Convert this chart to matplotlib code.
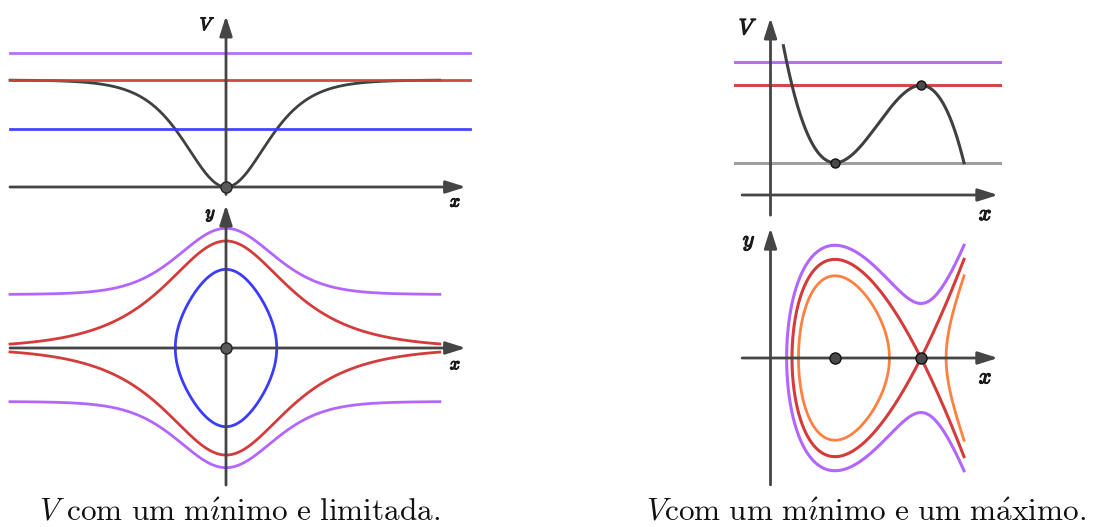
import numpy as np
import matplotlib.pyplot as plt
import matplotlib.patheffects as pe
from matplotlib.patches import ArrowStyle

plt.rcParams['mathtext.fontset'] = 'cm'

# left: bounded well  V(x) = depth * tanh(x)^2
well_depth = 1.0
well_x = (-4.0, 3.96)
well_levels = [0.54, 1.0, 1.25]
well_colors = ['#3b3bff', '#d43c3c', '#b266ff']

# right: V(x) = v_min + k (x - x_min)^2 (x_end - x), one minimum and one maximum
cubic_vmin = 0.75
cubic_k = 0.45
cubic_xmin = 1.5
cubic_xend = 4.5
cubic_xstart = 0.3
cubic_line_levels = [0.75, 2.55, 3.1]
cubic_line_colors = ['#9a9a9a', '#d43c3c', '#b266ff']
cubic_levels = [2.0, 2.55, 3.1]
cubic_colors = ['#ff8040', '#d43c3c', '#b266ff']

captions = [r'$V\ \mathrm{com\ um\ m\acute{\imath}nimo\ e\ limitada.}$',
            r'$V\mathrm{com\ um\ m\acute{\imath}nimo\ e\ um\ m\acute{a}ximo.}$']

AXIS = '#454545'
CURVE = '#404040'
W, H = 1094, 527
fig = plt.figure(figsize=(W / 100, H / 100), dpi=100)


def panel(origin, scale, xlim, ylim):
    ox, oy = origin
    sx, sy = scale
    left, right = ox + xlim[0] * sx, ox + xlim[1] * sx
    top, bottom = oy - ylim[1] * sy, oy - ylim[0] * sy
    ax = fig.add_axes([left / W, 1 - bottom / H, (right - left) / W, (bottom - top) / H])
    ax.set_xlim(xlim)
    ax.set_ylim(ylim)
    ax.axis('off')
    ax.patch.set_visible(False)
    return ax


def arrow(ax, start, tip):
    ax.annotate('', xy=tip, xytext=start, zorder=3,
                arrowprops=dict(arrowstyle=ArrowStyle('-|>', head_length=0.6, head_width=0.19),
                                mutation_scale=20, color=AXIS, lw=2.0,
                                shrinkA=0, shrinkB=0))


def label(ax, x, y, s, size):
    ax.text(x, y, s, fontsize=size, family='cmmi10', color='#1a1a1a', ha='center', va='center',
            path_effects=[pe.withStroke(linewidth=0.9, foreground='#1a1a1a')])


def root(f, a, b):
    fa = f(a)
    for _ in range(80):
        m = 0.5 * (a + b)
        fm = f(m)
        if np.sign(fm) == np.sign(fa):
            a, fa = m, fm
        else:
            b = m
    return 0.5 * (a + b)


def closed_orbit(ax, V, E, a, b, color):
    t = np.linspace(0, np.pi, 300)
    x = a + (b - a) * (1 - np.cos(t)) / 2
    y = np.sqrt(np.clip(2 * (E - V(x)), 0, None))
    ax.plot(np.r_[x, x[::-1]], np.r_[y, -y[::-1]], color=color, lw=2.0, zorder=2)


def well(x):
    return well_depth * np.tanh(x) ** 2


def cubic(x):
    return cubic_vmin + cubic_k * (x - cubic_xmin) ** 2 * (cubic_xend - x)


# ---- left, potential
ax = panel((226, 187), (54, 107), (-4.1, 4.6), (-0.2, 1.7))
xs = np.linspace(*well_x, 600)
ax.plot(xs, well(xs), color=CURVE, lw=2.0, zorder=1)
for E, c in zip(well_levels, well_colors):
    ax.plot([-4.0, 4.52], [E, E], color=c, lw=2.0, alpha=0.95, zorder=2)
arrow(ax, (-4.0, 0), (4.44, 0))
arrow(ax, (0, -0.07), (0, 1.6))
ax.plot(0, 0, 'o', ms=8, mfc='#5a5a5a', mec='#222222', mew=1.0, zorder=5)
label(ax, -0.39, 1.51, 'V', 13)
label(ax, 4.24, -0.14, 'x', 13)

# ---- left, phase plane
ax = panel((226, 348), (54, 75.7), (-4.1, 4.6), (-1.9, 1.95))
for E, c in zip(well_levels, well_colors):
    if E < well_depth:
        xt = np.arctanh(np.sqrt(E / well_depth))
        closed_orbit(ax, well, E, -xt, xt, c)
    else:
        y = np.sqrt(2 * (E - well(xs)))
        ax.plot(xs, y, color=c, lw=2.0, zorder=2)
        ax.plot(xs, -y, color=c, lw=2.0, zorder=2)
arrow(ax, (-4.0, 0), (4.44, 0))
arrow(ax, (0, -1.81), (0, 1.89))
ax.plot(0, 0, 'o', ms=8, mfc='#5a5a5a', mec='#222222', mew=1.0, zorder=5)
label(ax, -0.3, 1.78, 'y', 13)
label(ax, 4.24, -0.22, 'x', 13)

# ---- right, potential
vmax = cubic(cubic_xmin + 2 * (cubic_xend - cubic_xmin) / 3)
xmax = cubic_xmin + 2 * (cubic_xend - cubic_xmin) / 3
ax = panel((770.5, 195), (43, 43), (-0.9, 5.4), (-0.55, 4.25))
for E, c in zip(cubic_line_levels, cubic_line_colors):
    ax.plot([-0.83, 5.34], [E, E], color=c, lw=2.2, alpha=0.95, zorder=1)
xc = np.linspace(cubic_xstart, cubic_xend, 600)
ax.plot(xc, cubic(xc), color=CURVE, lw=2.2, zorder=2)
arrow(ax, (-0.66, 0), (5.29, 0))
arrow(ax, (0, -0.47), (0, 4.12))
ax.plot([cubic_xmin, xmax], [cubic_vmin, vmax], 'o', ms=6.5, mfc='#4a4a4a', mec='#111111',
        mew=1.0, zorder=5)
label(ax, -0.59, 3.88, 'V', 16)
label(ax, 4.99, -0.44, 'x', 16)

# ---- right, phase plane
ax = panel((770.5, 358), (43, 52), (-0.9, 5.4), (-2.6, 2.65))
for E, c in zip(cubic_levels, cubic_colors):
    f = lambda x, E=E: cubic(x) - E
    a = root(f, -1.0, cubic_xmin)
    if E < vmax:
        b = root(f, cubic_xmin, xmax)
        closed_orbit(ax, cubic, E, a, b, c)
        r = root(f, xmax, cubic_xend)
        t = np.linspace(0, np.pi / 2, 200)
        x = r + (cubic_xend - r) * (1 - np.cos(t))
        y = np.sqrt(np.clip(2 * (E - cubic(x)), 0, None))
        ax.plot(np.r_[x[::-1], x], np.r_[y[::-1], -y], color=c, lw=2.0, zorder=2)
    else:
        t = np.linspace(0, np.pi / 2, 200)
        x = np.r_[a + (cubic_xmin - a) * (1 - np.cos(t)), np.linspace(cubic_xmin, cubic_xend, 500)[1:]]
        y = np.sqrt(np.clip(2 * (E - cubic(x)), 0, None))
        if E > vmax:
            ax.plot(np.r_[x[::-1], x], np.r_[y[::-1], -y], color=c, lw=2.2, zorder=2)
        else:
            ax.plot(np.r_[x[::-1], x], np.r_[-y[::-1], y], color=c, lw=2.2, zorder=2)
arrow(ax, (-0.66, 0), (5.29, 0))
arrow(ax, (0, -2.44), (0, 2.5))
ax.plot([cubic_xmin, xmax], [0, 0], 'o', ms=8, mfc='#4a4a4a', mec='#111111', mew=1.0, zorder=5)
label(ax, -0.52, 2.27, 'y', 16)
label(ax, 4.99, -0.37, 'x', 16)

for cx, s in zip([240, 866], captions):
    fig.text(cx / W, 1 - 512 / H, s, fontsize=22.5, ha='center', va='center', color='#111111')

fig.savefig('out.png', dpi=100)
